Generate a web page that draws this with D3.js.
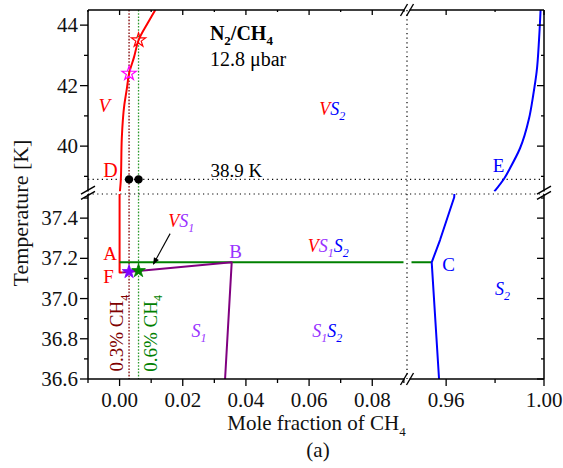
<!DOCTYPE html>
<html>
<head>
<meta charset="utf-8">
<script src="https://cdn.jsdelivr.net/npm/d3@7"></script>
<style>
  html, body { margin: 0; padding: 0; background: #fff; }
  svg { display: block; font-family: "Liberation Serif", "Times New Roman", serif; }
</style>
</head>
<body>
<svg id="chart" width="563" height="468"></svg>
<script>
// N2/CH4 binary phase diagram at 12.8 µbar: x = mole fraction of CH4, T in K.

// Vapour boundary (V) above the break and its vertical part near x = 0
const redUpper = [[0.0001, 38.5], [0.0004, 38.9], [0.0007, 40.26], [0.0015, 41.36], [0.0023, 41.9],
                  [0.003, 42.4], [0.0046, 42.95], [0.006, 43.5], [0.0091, 44.1], [0.0113, 44.5]];
const redLower = [[0.0008, 37.13], [0.0, 37.13], [0.0, 37.6]];
// Solid S1 boundary (F -> B -> down)
const purpleLine = [[0.0008, 37.13], [0.0355, 37.18], [0.0334, 36.6]];
// Three-phase line V + S1 + S2 (A -> C)
const greenTie = [[0.0, 37.18], [0.9541, 37.18]];
// Solid S2 boundary (C) and vapour boundary on the CH4-rich side (E)
const blueLower = [[0.9571, 36.6], [0.9541, 37.18], [0.9575, 37.291], [0.9633, 37.504], [0.9637, 37.6]];
const blueUpper = [[0.9797, 38.5], [0.9838, 38.94], [0.9861, 39.27], [0.9902, 39.93], [0.9939, 40.92],
                   [0.9956, 41.69], [0.9970, 42.46], [0.9980, 43.56], [0.9986, 44.5]];

// Mixture compositions (0.3 % and 0.6 % CH4) and their transition points
const mixtures = [0.003, 0.006];
const openStars = [[0.003, 42.4], [0.006, 43.5]];
const filledStars = [[0.003, 37.133], [0.006, 37.138]];
const dots = [[0.003, 38.9], [0.006, 38.9]];
const eutecticT = 38.9;

// Axis ticks
const yTicksUpper = [40, 42, 44];
const yMinorUpper = [39, 41, 43];
const yTicksLower = [36.6, 36.8, 37.0, 37.2, 37.4];
const yMinorLower = [36.7, 36.9, 37.1, 37.3, 37.5];
const xTicksLeft = [0, 0.02, 0.04, 0.06, 0.08];
const xMinorLeft = [-0.01, 0.01, 0.03, 0.05, 0.07, 0.09];
const xTicksRight = [0.96, 1.00];
const xMinorRight = [0.98];

(function () {
const C = {
  red: "#ff0000", blue: "#0000ff", green: "#008000", purple: "#800080",
  violet: "#9933ff", magenta: "#ff00ff", maroon: "#800000", starViolet: "#8000ff"
};

const svg = d3.select("#chart");

// Broken axes: two x segments and two y segments
const xL = d3.scaleLinear().domain([-0.01, 0.091]).range([88, 407]);
const xR = d3.scaleLinear().domain([0.944, 1.0]).range([407, 544]);
const yU = d3.scaleLinear().domain([38.5, 44.5]).range([191.5, 10]);
const yD = d3.scaleLinear().domain([36.6, 37.52]).range([379, 194]);

const pL = 88, pR = 544, pT = 10, pB = 379, xBreak = 407, yBreak = 192.75;

const panels = [
  { id: "lu", x: xL, y: yU, box: [pL, pT, 403.5, 191.5] },
  { id: "ru", x: xR, y: yU, box: [411.5, pT, pR, 191.5] },
  { id: "ld", x: xL, y: yD, box: [pL, 194, 403.5, pB] },
  { id: "rd", x: xR, y: yD, box: [411.5, 194, pR, pB] }
];

const defs = svg.append("defs");
panels.forEach(p => {
  defs.append("clipPath").attr("id", "clip-" + p.id)
    .append("rect")
    .attr("x", p.box[0]).attr("y", p.box[1])
    .attr("width", p.box[2] - p.box[0]).attr("height", p.box[3] - p.box[1]);
});
defs.append("marker").attr("id", "arrow")
  .attr("viewBox", "0 0 10 10").attr("refX", 9).attr("refY", 5)
  .attr("markerWidth", 9).attr("markerHeight", 7).attr("markerUnits", "userSpaceOnUse")
  .attr("orient", "auto")
  .append("path").attr("d", "M0,1 L10,5 L0,9 Z").attr("fill", "#000");

function panelFor(x, T) {
  const isLeft = x <= 0.091, isUp = T >= 38.5;
  return panels.find(p => p.id === (isLeft ? "l" : "r") + (isUp ? "u" : "d"));
}
function px(x, T) { const p = panelFor(x, T); return [p.x(x), p.y(T)]; }

// ---- reference lines (dotted) ----
const guides = svg.append("g");
const xOf = x => (x <= 0.091 ? xL(x) : xR(x));
guides.append("line")
  .attr("x1", xOf(mixtures[0])).attr("x2", xOf(mixtures[0]))
  .attr("y1", pT).attr("y2", pB)
  .attr("stroke", C.maroon).attr("stroke-width", 1.3).attr("stroke-dasharray", "1.6,1.6");
guides.append("line")
  .attr("x1", xOf(mixtures[1])).attr("x2", xOf(mixtures[1]))
  .attr("y1", pT).attr("y2", pB)
  .attr("stroke", "#2e9a2e").attr("stroke-width", 1.3).attr("stroke-dasharray", "1.6,1.6");
guides.append("line")
  .attr("x1", pL).attr("x2", pR)
  .attr("y1", yU(eutecticT)).attr("y2", yU(eutecticT))
  .attr("stroke", "#000").attr("stroke-width", 1.2).attr("stroke-dasharray", "1.2,3.4");
guides.append("line")
  .attr("x1", pL).attr("x2", pR)
  .attr("y1", yD.range()[1]).attr("y2", yD.range()[1])
  .attr("stroke", "#000").attr("stroke-width", 1.2).attr("stroke-dasharray", "1.2,3.4");
guides.append("line")
  .attr("x1", xBreak).attr("x2", xBreak)
  .attr("y1", pT).attr("y2", pB)
  .attr("stroke", "#000").attr("stroke-width", 1.2).attr("stroke-dasharray", "1.2,3.4");

// ---- phase boundaries drawn in each axis panel ----
const series = [
  { data: redUpper, color: C.red, curve: d3.curveMonotoneY, w: 2 },
  { data: redLower, color: C.red, curve: d3.curveLinear, w: 2 },
  { data: greenTie, color: C.green, curve: d3.curveLinear, w: 2 },
  { data: purpleLine, color: C.purple, curve: d3.curveLinear, w: 2 },
  { data: blueLower, color: C.blue, curve: d3.curveLinear, w: 2 },
  { data: blueUpper, color: C.blue, curve: d3.curveMonotoneY, w: 2 }
];
panels.forEach(p => {
  const g = svg.append("g").attr("clip-path", "url(#clip-" + p.id + ")");
  series.forEach(s => {
    const line = d3.line().x(d => p.x(d[0])).y(d => p.y(d[1])).curve(s.curve);
    g.append("path").attr("d", line(s.data))
      .attr("fill", "none").attr("stroke", s.color).attr("stroke-width", s.w)
      .attr("stroke-linejoin", "round");
  });
});

// ---- symbols ----
const openStar = d3.symbol().type(d3.symbolStar).size(62);
const solidStar = d3.symbol().type(d3.symbolStar).size(58);
const openColors = [C.magenta, C.red];
openStars.forEach((d, i) => {
  const [cx, cy] = px(d[0], d[1]);
  svg.append("path").attr("d", openStar()).attr("transform", `translate(${cx},${cy})`)
    .attr("fill", "none").attr("stroke", openColors[i]).attr("stroke-width", 1.2);
});
const filledColors = [C.starViolet, C.green];
filledStars.forEach((d, i) => {
  const [cx, cy] = px(d[0], d[1]);
  svg.append("path").attr("d", solidStar()).attr("transform", `translate(${cx},${cy})`)
    .attr("fill", filledColors[i]).attr("stroke", filledColors[i]).attr("stroke-width", 0.8);
});
dots.forEach(d => {
  const [cx, cy] = px(d[0], d[1]);
  svg.append("circle").attr("cx", cx).attr("cy", cy).attr("r", 4.2).attr("fill", "#000");
});

// arrow pointing at the narrow V+S1 region
{
  const [x1, y1] = px(0.016, 37.323);
  const [x2, y2] = px(0.0107, 37.171);
  svg.append("line").attr("x1", x1).attr("y1", y1).attr("x2", x2).attr("y2", y2)
    .attr("stroke", "#000").attr("stroke-width", 1.1).attr("marker-end", "url(#arrow)");
}

// ---- axes frame ----
const ax = svg.append("g").attr("stroke", "#000").attr("stroke-width", 1.5).attr("fill", "none");
function seg(x1, y1, x2, y2) { ax.append("line").attr("x1", x1).attr("y1", y1).attr("x2", x2).attr("y2", y2); }
seg(pL, pT, pL, 191.5); seg(pL, 194, pL, pB);
seg(pR, pT, pR, 191.5); seg(pR, 194, pR, pB);
seg(pL, pT, xBreak - 2.5, pT); seg(xBreak + 2.5, pT, pR, pT);
seg(pL, pB, xBreak - 2.5, pB); seg(xBreak + 2.5, pB, pR, pB);

// break marks
const brk = svg.append("g").attr("stroke", "#000").attr("stroke-width", 1.4);
[pL, pR].forEach(cx => {
  [-2.6, 2.6].forEach(o => {
    brk.append("line").attr("x1", cx - 7).attr("y1", yBreak + o + 4)
      .attr("x2", cx + 7).attr("y2", yBreak + o - 4);
  });
});
[pT, pB].forEach(cy => {
  [-3, 3].forEach(o => {
    brk.append("line").attr("x1", xBreak + o - 3.5).attr("y1", cy + 6)
      .attr("x2", xBreak + o + 3.5).attr("y2", cy - 6);
  });
});

// ticks
const tk = svg.append("g").attr("stroke", "#000").attr("stroke-width", 1.3);
function yTicks(scale, vals, len) {
  vals.forEach(v => {
    const y = scale(v);
    tk.append("line").attr("x1", pL - len).attr("x2", pL).attr("y1", y).attr("y2", y);
    tk.append("line").attr("x1", pR - len + 1).attr("x2", pR).attr("y1", y).attr("y2", y);
  });
}
function xTicks(scale, vals, len) {
  vals.forEach(v => {
    const x = scale(v);
    tk.append("line").attr("x1", x).attr("x2", x).attr("y1", pB).attr("y2", pB + len);
    tk.append("line").attr("x1", x).attr("x2", x).attr("y1", pT).attr("y2", pT + len - 2);
  });
}
yTicks(yU, yTicksUpper, 8); yTicks(yU, yMinorUpper, 4);
yTicks(yD, yTicksLower, 8); yTicks(yD, yMinorLower, 4);
xTicks(xL, xTicksLeft, 7); xTicks(xL, xMinorLeft, 4);
xTicks(xR, xTicksRight, 7); xTicks(xR, xMinorRight, 4);

// tick labels
const lab = svg.append("g").attr("font-size", 21).attr("fill", "#111");
yTicksUpper.forEach(v => lab.append("text").attr("x", 78).attr("y", yU(v)).attr("dy", "0.34em")
  .attr("text-anchor", "end").text(d3.format("d")(v)));
yTicksLower.forEach(v => lab.append("text").attr("x", 78).attr("y", yD(v)).attr("dy", "0.34em")
  .attr("text-anchor", "end").text(d3.format(".1f")(v)));
xTicksLeft.forEach(v => lab.append("text").attr("x", xL(v)).attr("y", 406.5)
  .attr("text-anchor", "middle").text(d3.format(".2f")(v)));
xTicksRight.forEach(v => lab.append("text").attr("x", xR(v)).attr("y", 406.5)
  .attr("text-anchor", "middle").text(d3.format(".2f")(v)));

// axis titles
svg.append("text").attr("transform", "translate(28,213) rotate(-90)")
  .attr("text-anchor", "middle").attr("font-size", 22).attr("fill", "#111")
  .text("Temperature [K]");
{
  const t = svg.append("text").attr("x", 316.5).attr("y", 430).attr("text-anchor", "middle")
    .attr("font-size", 21).attr("fill", "#111");
  t.append("tspan").text("Mole fraction of CH");
  t.append("tspan").attr("font-size", 13).attr("dy", 6).text("4");
}
svg.append("text").attr("x", 318).attr("y", 457).attr("text-anchor", "middle")
  .attr("font-size", 21).attr("fill", "#111").text("(a)");

// ---- annotations ----
// parts: [text, colour, isSubscript]
function rich(x, T, parts, opts = {}) {
  const [cx, cy] = px(x, T);
  const t = svg.append("text").attr("x", cx).attr("y", cy)
    .attr("font-size", opts.size || 18)
    .attr("font-style", opts.italic ? "italic" : null)
    .attr("font-weight", opts.bold ? "bold" : null);
  if (opts.rotate) t.attr("transform", `rotate(-90,${cx},${cy})`);
  const sub = opts.sub || 5.5, subSize = opts.subSize || 12;
  let shifted = false;
  parts.forEach(([s, col, isSub]) => {
    const ts = t.append("tspan").attr("fill", col).text(s);
    if (isSub && !shifted) { ts.attr("dy", sub).attr("font-size", subSize); shifted = true; }
    else if (isSub) { ts.attr("font-size", subSize); }
    else if (shifted) { ts.attr("dy", -sub); shifted = false; }
  });
  return t;
}

rich(0.0286, 43.52, [["N", "#000"], ["2", "#000", true], ["/CH", "#000"], ["4", "#000", true]],
  { size: 20, bold: true, sub: 5, subSize: 13 });
rich(0.0286, 42.65, [["12.8 \u03bcbar", "#000"]], { size: 20 });

rich(-0.0067, 41.13, [["V", C.red]], { italic: true, size: 19 });
rich(0.0632, 41.03, [["V", C.red], ["S", C.blue], ["2", C.blue, true]], { italic: true });
rich(-0.0052, 38.98, [["D", C.red]], { size: 20 });
rich(0.0288, 38.99, [["38.9 K", "#000"]], { size: 19 });
rich(0.9790, 39.15, [["E", C.blue]], { size: 19 });

rich(0.0154, 37.357, [["V", C.red], ["S", C.violet], ["1", C.violet, true]], { italic: true });
rich(-0.0052, 37.192, [["A", C.red]], { size: 19 });
rich(-0.0052, 37.076, [["F", C.red]], { size: 19 });
rich(0.0347, 37.2, [["B", C.violet]], { size: 19 });
rich(0.0596, 37.233, [["V", C.red], ["S", C.violet], ["1", C.violet, true], ["S", C.blue], ["2", C.blue, true]], { italic: true });
rich(0.9584, 37.139, [["C", C.blue]], { size: 19 });
rich(0.9800, 37.018, [["S", C.blue], ["2", C.blue, true]], { italic: true });
rich(0.0228, 36.81, [["S", C.violet], ["1", C.violet, true]], { italic: true });
rich(0.061, 36.81, [["S", C.violet], ["1", C.violet, true], ["S", C.blue], ["2", C.blue, true]], { italic: true });

rich(0.0011, 36.637, [["0.3% CH", C.maroon], ["4", C.maroon, true]], { rotate: true, size: 19 });
rich(0.0118, 36.636, [["0.6% CH", C.green], ["4", C.green, true]], { rotate: true, size: 19 });
})();
</script>
</body>
</html>
